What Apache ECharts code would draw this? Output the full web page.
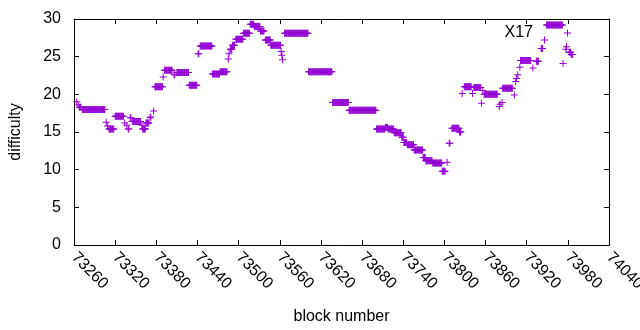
<!DOCTYPE html>
<html>
<head>
<meta charset="utf-8">
<script src="https://cdn.jsdelivr.net/npm/echarts@6/dist/echarts.min.js"></script>
<style>html,body{margin:0;padding:0;background:#fff}#c{width:640px;height:330px}</style>
</head>
<body>
<div id="c"></div>
<script>
// ---- data ----
const seriesName = 'X17';
const xTitle = 'block number';
const yTitle = 'difficulty';
const xMin = 73260, xMax = 74040, xStep = 60;
const yMin = 0, yMax = 30, yStep = 5;

// runs of consecutive blocks sharing the same difficulty
const runStart = [73264,73266,73268,73272,73307,73309,73311,73320,73334,73337,73339,73342,73343,73345,73359,73360,73365,73371,73372,73376,
  73378,73390,73392,73406,73410,73428,73441,73444,73462,73473,73485,73486,73488,73491,73496,73507,73517,73523,73532,73539,
  73547,73562,73563,73564,73567,73602,73637,73661,73701,73714,73718,73727,73738,73741,73746,73756,73769,73773,73783,73797,
  73804,73807,73811,73822,73826,73829,73841,73843,73854,73856,73858,73880,73881,73884,73885,73902,73904,73905,73907,73910,
  73911,73929,73934,73941,73946,73949,73973,73977,73978,73982,73985];
const runEnd   = [73264,73266,73270,73305,73307,73309,73318,73332,73334,73337,73340,73342,73343,73357,73359,73364,73369,73371,73372,73376,
  73389,73390,73403,73407,73427,73439,73442,73461,73472,73483,73485,73486,73490,73494,73506,73516,73522,73531,73537,73546,
  73561,73562,73563,73564,73601,73636,73660,73700,73713,73717,73726,73737,73740,73745,73755,73768,73772,73782,73796,73801,
  73804,73808,73821,73824,73826,73839,73841,73853,73854,73856,73877,73880,73881,73884,73899,73902,73904,73905,73907,73910,
  73926,73929,73937,73943,73946,73972,73973,73977,73978,73984,73987];
const runValue = [19.0,18.6,18.3,18.0,16.3,15.8,15.4,17.1,16.2,15.9,15.4,16.9,16.9,16.4,15.9,15.4,16.2,16.9,17.0,17.8,
  21.0,22.3,23.2,22.6,22.9,21.2,25.4,26.4,22.7,23.0,24.7,25.4,26.0,26.5,27.3,28.1,29.3,29.0,28.4,27.2,
  26.5,25.7,25.2,24.6,28.1,23.0,18.9,17.9,15.4,15.6,15.4,14.9,14.3,13.6,13.3,12.6,11.6,11.2,10.9,9.8,
  11.0,13.5,15.5,15.0,20.1,21.0,20.1,20.9,18.8,20.5,20.0,18.4,18.7,18.9,20.8,19.9,21.7,22.1,22.6,23.6,
  24.5,23.5,24.4,26.1,27.2,29.2,24.1,26.0,26.3,25.6,25.3];

// ---- build points: one per block ----
const points = [];
for (let i = 0; i < runStart.length; i++) {
  for (let b = runStart[i]; b <= runEnd[i]; b++) points.push([b, runValue[i]]);
}

const color = '#9400d3';
const font = 'Liberation Sans, Arial, sans-serif';
const fs = 16;
const plus = 'path://M0,3L3,3L3,0L4,0L4,3L7,3L7,4L4,4L4,7L3,7L3,4L0,4Z';
const axisLine = {show: true, onZero: false, lineStyle: {color: '#000', width: 1}};
const tick = {show: true, inside: true, length: 5, lineStyle: {color: '#000', width: 1}};

const chart = echarts.init(document.getElementById('c'), null, {renderer: 'canvas'});
chart.setOption({
  animation: false,
  backgroundColor: '#fff',
  grid: {left: 74, right: 31, top: 19, bottom: 85, outerBoundsMode: 'none', containLabel: false},
  legend: {
    data: [seriesName], right: 69, top: 25, align: 'right', padding: 0,
    itemWidth: 7, itemHeight: 7, itemGap: 5,
    textStyle: {fontFamily: font, fontSize: fs, color: '#000', padding: [0, 26, 0, 0]}
  },
  xAxis: [
    {type: 'value', min: xMin, max: xMax, interval: xStep, position: 'bottom',
     axisLine: axisLine, axisTick: tick, splitLine: {show: false},
     axisLabel: {rotate: -45, margin: 10, color: '#000', fontFamily: font, fontSize: fs,
                 showMinLabel: true, showMaxLabel: true, hideOverlap: false,
                 formatter: v => String(v)},
     name: xTitle, nameLocation: 'middle', nameGap: 64,
     nameTextStyle: {fontFamily: font, fontSize: fs, color: '#000'}},
    {type: 'value', min: xMin, max: xMax, interval: xStep, position: 'top',
     axisLine: axisLine, axisTick: tick, splitLine: {show: false}, axisLabel: {show: false}}
  ],
  yAxis: [
    {type: 'value', min: yMin, max: yMax, interval: yStep, position: 'left',
     axisLine: axisLine, axisTick: tick, splitLine: {show: false},
     axisLabel: {margin: 13, color: '#000', fontFamily: font, fontSize: fs, formatter: v => String(v)},
     name: yTitle, nameLocation: 'middle', nameGap: 50,
     nameTextStyle: {fontFamily: font, fontSize: fs, color: '#000'}},
    {type: 'value', min: yMin, max: yMax, interval: yStep, position: 'right',
     axisLine: axisLine, axisTick: tick, splitLine: {show: false}, axisLabel: {show: false}}
  ],
  series: [{
    name: seriesName, type: 'scatter', xAxisIndex: 0, yAxisIndex: 0,
    symbol: plus, symbolSize: [7, 7], silent: true,
    itemStyle: {color: color, opacity: 1},
    data: points
  }]
});
</script>
</body>
</html>
